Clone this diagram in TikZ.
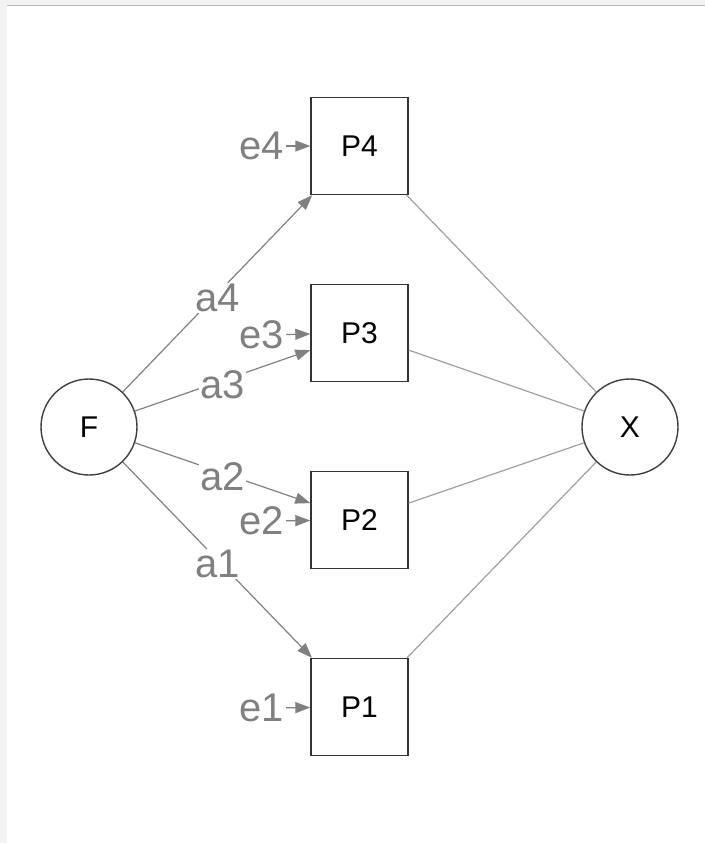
\documentclass[tikz,border=0pt]{standalone}
\usepackage{fontspec}
\setmainfont{Liberation Sans}
\usepackage{tikz}
\usetikzlibrary{arrows.meta}
\tikzstyle{latent}=[circle,draw=black!75,line width=0.7pt,minimum size=48pt,inner sep=0pt,font=\fontsize{15}{18}\selectfont]
\tikzstyle{manifest}=[rectangle,draw=black!80,line width=0.7pt,minimum size=48.5pt,inner sep=0pt,font=\fontsize{15}{18}\selectfont]
\tikzstyle{edge} = [draw,gray,line width=0.6pt,-{Triangle[length=7.5pt,width=5.5pt]}]
\tikzstyle{undirectededge} = [draw,gray!75,line width=0.6pt]
\tikzstyle{weight} = [font=\fontsize{20}{24}\selectfont,text=gray,fill=white,inner sep=0.5pt,yshift=-2pt]
\tikzstyle{resid} = [font=\fontsize{20}{24}\selectfont,text=gray,inner sep=1pt]

\begin{document}
\begin{tikzpicture}[x=0.5pt,y=-0.5pt]

  \useasboundingbox (0,0) rectangle (705,843);
  % window frame
  \fill[gray!10] (0,0) rectangle (7,843);
  \fill[gray!10] (0,0) rectangle (705,5);
  \draw[gray!55,line width=0.8pt] (7,5.5) -- (705,5.5);

  \node[latent] (F) at (89,427) {F};
  \node[latent] (X) at (630,427) {X};

  \foreach \y/\name/\label in {146/P4/P4, 333/P3/P3, 520/P2/P2, 707/P1/P1}
          \node[manifest] (\name) at (359.5,\y) {\label};

  \foreach \y/\name/\label in {146/e4/e4, 335/e3/e3, 521/e2/e2, 708/e1/e1}
          \node[resid] (\name) at (261.5,\y) {\label};

  \foreach \dest/\weight in {P4/a4, P3/a3, P2/a2, P1/a1}
         \path[edge] (F) -- node[weight] {\weight} (\dest);

  \foreach \n in {1,...,4}
         \path[edge] (e\n) -- (P\n);

  \foreach \source in {P4, P3, P2, P1}
         \path[undirectededge] (\source) -- (X);

\end{tikzpicture}
\end{document}
